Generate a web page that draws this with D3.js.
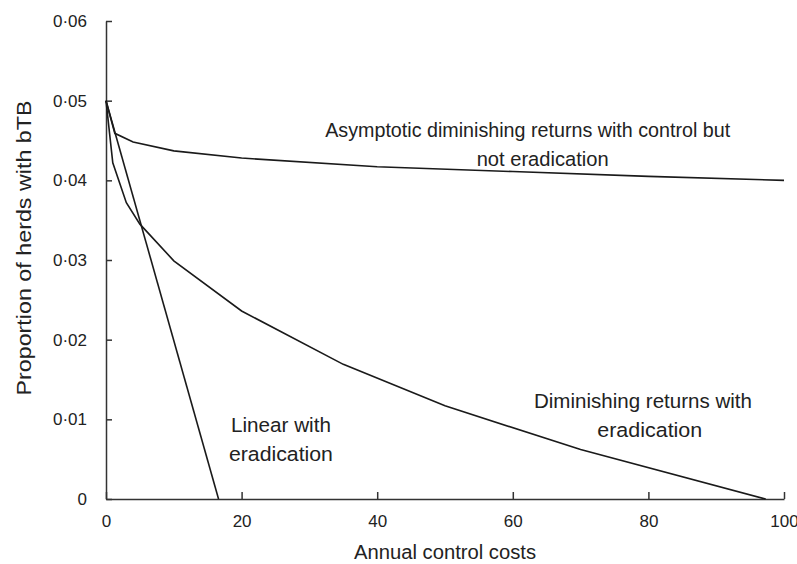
<!DOCTYPE html>
<html>
<head>
<meta charset="utf-8">
<script src="https://cdn.jsdelivr.net/npm/d3@7"></script>
<style>
  body { margin: 0; background: #fff; }
  text { font-family: "Liberation Sans", Arial, Helvetica, sans-serif; fill: #222; }
</style>
</head>
<body>
<script>
// data
const costLinear = [0, 16.6];
const herdsLinear = [0.05, 0];

const costDiminishing = [0, 1, 2, 3, 5, 10, 20, 35, 50, 70, 97.3];
const herdsDiminishing = [0.05, 0.0422, 0.0397, 0.0372, 0.0345, 0.0299, 0.0236, 0.0169, 0.0117, 0.0062, 0];

const costAsymptotic = [0, 1.3, 4, 10, 20, 40, 60, 80, 100];
const herdsAsymptotic = [0.05, 0.0459, 0.0448, 0.0437, 0.0428, 0.0417, 0.0411, 0.0405, 0.04];

const xTicks = [0, 20, 40, 60, 80, 100];
const yTicks = [0, 0.01, 0.02, 0.03, 0.04, 0.05, 0.06];

const labelAsymptotic = ["Asymptotic diminishing returns with control but", "not eradication"];
const labelLinear = ["Linear with", "eradication"];
const labelDiminishing = ["Diminishing returns with", "eradication"];

const width = 797,
  height = 564;

const svg = d3
  .select("body")
  .append("svg")
  .attr("width", width)
  .attr("height", height);

// scales
const xScale = d3.scaleLinear().domain([0, 100]).range([106, 784]);
const yScale = d3.scaleLinear().domain([0, 0.06]).range([499, 21]);

// y ticks use the middle dot as decimal point
const fmtY = (d) => (d === 0 ? "0" : d3.format(".2f")(d).replace(".", "\u00b7"));
const fmtX = d3.format("d");

// axes
const xAxis = d3
  .axisBottom(xScale)
  .tickValues(xTicks)
  .tickFormat(fmtX)
  .tickSizeInner(-7)
  .tickSizeOuter(0)
  .tickPadding(16);

const yAxis = d3
  .axisLeft(yScale)
  .tickValues(yTicks)
  .tickFormat(fmtY)
  .tickSizeInner(-6)
  .tickSizeOuter(0)
  .tickPadding(19);

const gx = svg.append("g").attr("transform", "translate(0,499)").call(xAxis);
const gy = svg.append("g").attr("transform", "translate(106,0)").call(yAxis);

[gx, gy].forEach((g) => {
  g.selectAll("path, line").attr("stroke", "#333").attr("stroke-width", 1.5);
  g.selectAll("text")
    .style("font-family", '"Liberation Sans", Arial, sans-serif')
    .style("font-size", "17px")
    .attr("fill", "#222");
});

// axis titles
svg
  .append("text")
  .attr("x", 445)
  .attr("y", 559)
  .attr("text-anchor", "middle")
  .style("font-size", "20px")
  .attr("textLength", 182)
  .attr("lengthAdjust", "spacingAndGlyphs")
  .text("Annual control costs");

svg
  .append("text")
  .attr("transform", "translate(31,248) rotate(-90)")
  .attr("text-anchor", "middle")
  .style("font-size", "21px")
  .attr("textLength", 295)
  .attr("lengthAdjust", "spacingAndGlyphs")
  .text("Proportion of herds with bTB");

// lines
const line = d3
  .line()
  .x((d) => xScale(d[0]))
  .y((d) => yScale(d[1]));

const series = [
  d3.zip(costLinear, herdsLinear),
  d3.zip(costDiminishing, herdsDiminishing),
  d3.zip(costAsymptotic, herdsAsymptotic),
];

svg
  .selectAll(".curve")
  .data(series)
  .enter()
  .append("path")
  .attr("class", "curve")
  .attr("d", line)
  .attr("fill", "none")
  .attr("stroke", "#1a1a1a")
  .attr("stroke-width", 1.6);

// annotations (anchor given in data units, width in px)
const drawLabel = (lines, cx, y0, widths) => {
  lines.forEach((t, i) => {
    svg
      .append("text")
      .attr("x", xScale(cx[i]))
      .attr("y", yScale(y0) + i * 29)
      .attr("text-anchor", "middle")
      .style("font-size", "20.5px")
      .attr("textLength", widths[i])
      .attr("lengthAdjust", "spacingAndGlyphs")
      .text(t);
  });
};

drawLabel(labelAsymptotic, [62.2, 64.4], 0.0455, [405, 132]);
drawLabel(labelLinear, [25.8, 25.8], 0.0084, [100, 104]);
drawLabel(labelDiminishing, [79.2, 80.2], 0.0114, [218, 105]);
</script>
</body>
</html>
